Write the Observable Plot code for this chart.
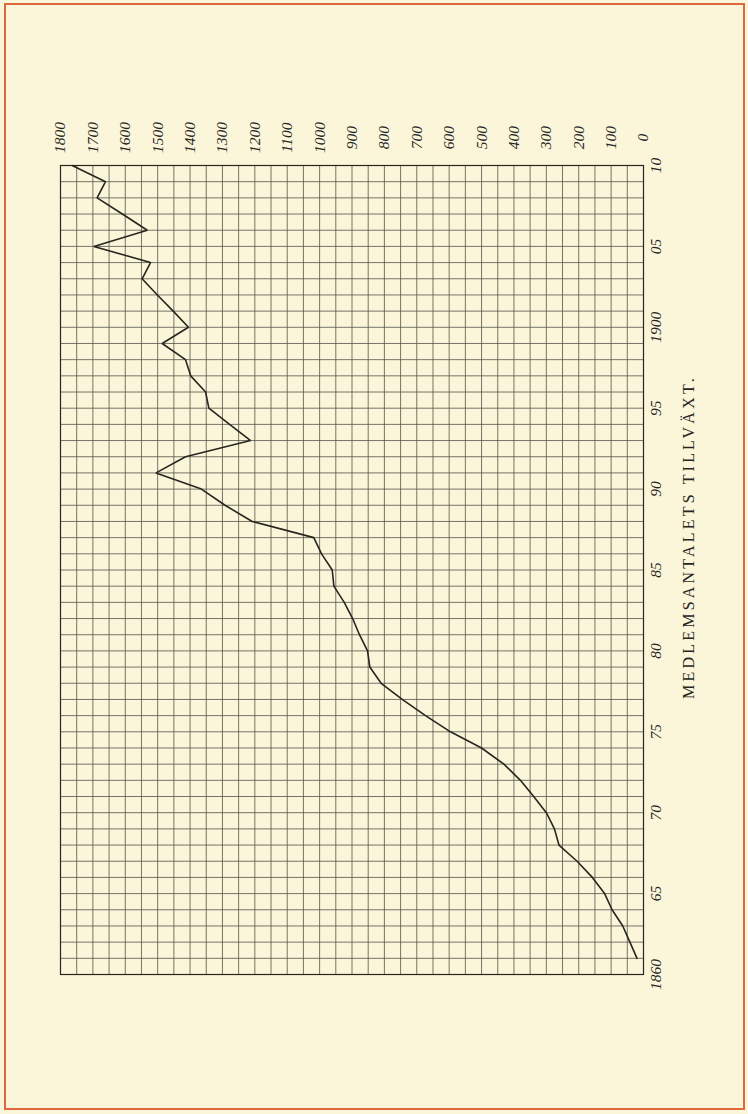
<!DOCTYPE html>
<html>
<head>
<meta charset="utf-8">
<script src="https://cdn.jsdelivr.net/npm/d3@7"></script>
<script src="https://cdn.jsdelivr.net/npm/@observablehq/plot@0.6"></script>
<style>
  html, body { margin: 0; padding: 0; background: #fbf6da; }
  #page { position: relative; width: 748px; height: 1114px; overflow: hidden; background: #fbf6da; }
  #border { position: absolute; left: 4px; top: 3px; width: 737px; height: 1103px; border: 2px solid #e0683f; box-sizing: content-box; }
  #chart { position: absolute; left: 0; top: 0; }
</style>
</head>
<body>
<div id="page">
  <div id="border"></div>
  <div id="chart"></div>
</div>
<script>
// Years and member counts (Medlemsantalet)
const years = [1861,1862,1863,1864,1865,1866,1867,1868,1869,1870,
               1871,1872,1873,1874,1875,1876,1877,1878,1879,1880,
               1881,1882,1883,1884,1885,1886,1887,1888,1889,1890,
               1891,1892,1893,1894,1895,1896,1897,1898,1899,1900,
               1901,1902,1903,1904,1905,1906,1907,1908,1909,1910];
const members = [20,42,64,97,120,158,205,261,275,300,
                 339,380,431,500,596,673,745,810,845,852,
                 877,898,924,956,961,994,1018,1208,1292,1365,
                 1505,1414,1213,1278,1342,1352,1398,1414,1486,1405,
                 1452,1501,1548,1522,1697,1532,1609,1687,1661,1764];

// Tick labels
const yearTicks = [1860,1865,1870,1875,1880,1885,1890,1895,1900,1905,1910];
const yearTickLabels = ["1860","65","70","75","80","85","90","95","1900","05","10"];
const valueTicks = [0,100,200,300,400,500,600,700,800,900,1000,1100,1200,1300,1400,1500,1600,1700,1800];
const valueTickLabels = ["0","100","200","300","400","500","600","700","800","900","1000","1100","1200","1300","1400","1500","1600","1700","1800"];

// Grid lines: every 50 members, every year
const gridMembers = d3.range(0, 1801, 50);
const gridYears = d3.range(1860, 1911, 1);

const title = ["MEDLEMSANTALETS TILLVÄXT."];

const data = years.map((y, i) => ({year: y, members: members[i]}));

const ink = "#26261f";
const gridInk = "#54574a";
const serif = "'Liberation Serif', 'DejaVu Serif', serif";

const chart = Plot.plot({
  width: 748,
  height: 1114,
  marginLeft: 60,
  marginRight: 105,
  marginTop: 165,
  marginBottom: 140,
  x: {domain: [1800, 0], axis: null},
  y: {domain: [1860, 1910], axis: null},
  style: {background: "transparent", fontFamily: serif, color: ink},
  marks: [
    Plot.ruleX(gridMembers, {x: d => d, stroke: gridInk, strokeWidth: 0.9, strokeOpacity: 0.9}),
    Plot.ruleY(gridYears, {y: d => d, stroke: gridInk, strokeWidth: 0.9, strokeOpacity: 0.9}),
    Plot.frame({stroke: ink, strokeWidth: 1.2}),
    Plot.line(data, {x: "members", y: "year", stroke: ink, strokeWidth: 1.6, strokeLinejoin: "miter"}),
    Plot.text(valueTicks, {
      x: d => d, frameAnchor: "top", dy: -28,
      text: (d, i) => valueTickLabels[i],
      rotate: -90, textAnchor: "middle", lineAnchor: "middle",
      fontSize: 15.5, fontStyle: "italic", fill: ink
    }),
    Plot.text(yearTicks, {
      y: d => d, frameAnchor: "right", dx: 13,
      text: (d, i) => yearTickLabels[i],
      rotate: -90, textAnchor: "middle", lineAnchor: "middle",
      fontSize: 15.5, fontStyle: "italic", fill: ink
    }),
    Plot.text(title, {
      frameAnchor: "right", dx: 45, dy: -33,
      text: d => d,
      rotate: -90, textAnchor: "middle", lineAnchor: "middle",
      fontSize: 16, fill: ink
    })
  ]
});
document.getElementById("chart").appendChild(chart);
// letter spacing on the title text
d3.select(chart).selectAll("text").filter(function() { return this.textContent === title[0]; })
  .style("letter-spacing", "3.2px");
</script>
</body>
</html>
